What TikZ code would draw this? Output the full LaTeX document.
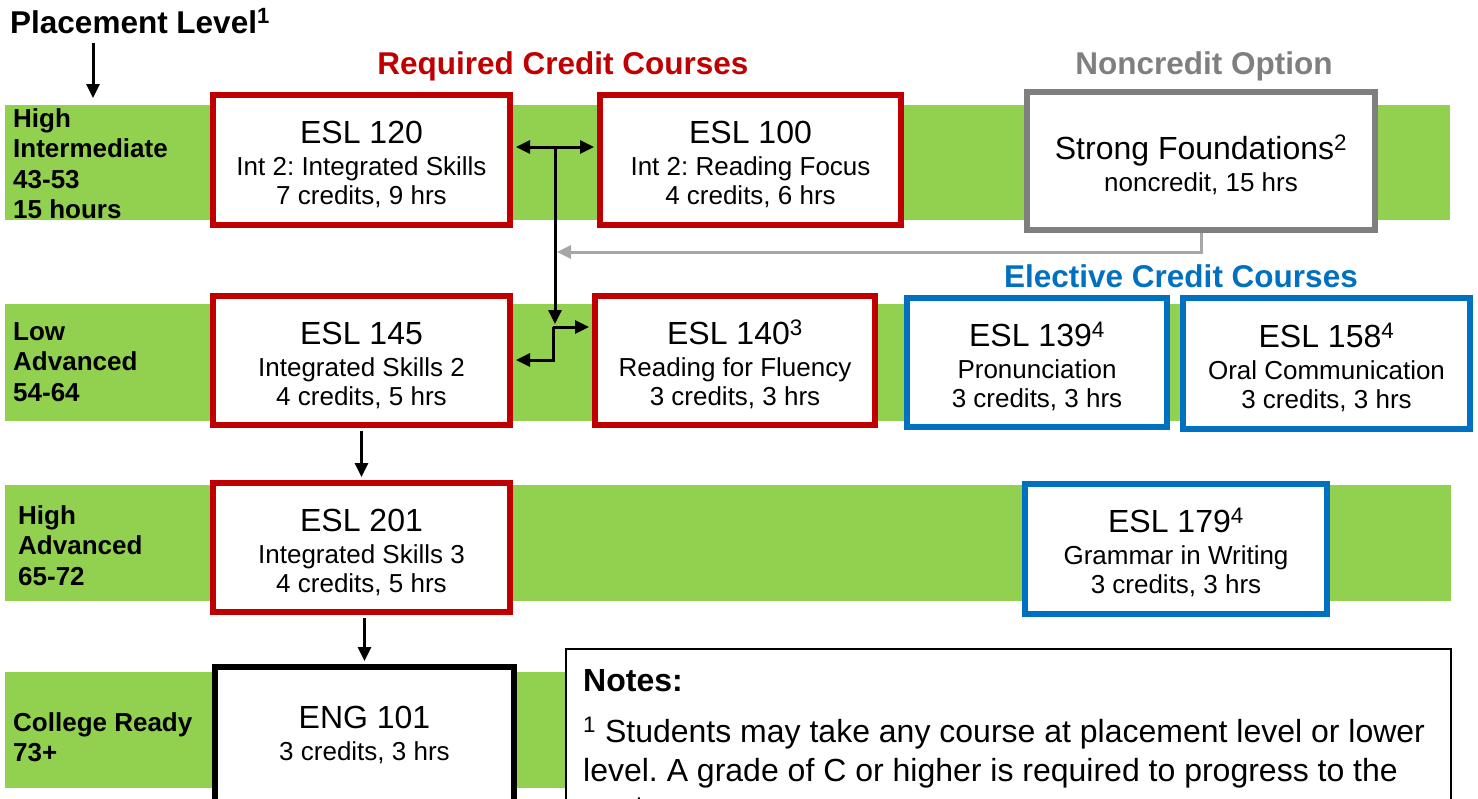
\documentclass[tikz,border=0pt]{standalone}
\usepackage{fontspec}
\setmainfont{Liberation Sans}
\usetikzlibrary{arrows.meta}
\definecolor{lvlgreen}{HTML}{92D050}
\definecolor{reqred}{HTML}{C00000}
\definecolor{eleblue}{HTML}{0070C0}
\definecolor{nongray}{HTML}{7F7F7F}
\definecolor{backgray}{HTML}{A6A6A6}
\frenchspacing
\newcommand{\crs}[1]{{\fontsize{32}{34}\selectfont\rule{0pt}{32pt}#1}\\[3pt]}
\begin{document}
\begin{tikzpicture}[x=1pt, y=-1pt,
  >={Triangle[length=14pt, width=13pt]},
  band/.style={fill=lvlgreen},
  lvl/.style={anchor=north west, inner sep=0pt, align=left, font=\bfseries\fontsize{26}{30.5}\selectfont},
  head/.style={anchor=base, inner sep=0pt, font=\bfseries\fontsize{31.5}{34}\selectfont},
  course/.style={draw, line width=6pt, fill=white, align=center, inner sep=0pt,
    font=\fontsize{26}{29}\selectfont},
  req/.style={course, draw=reqred},
  ele/.style={course, draw=eleblue},
  arr/.style={line width=3pt, ->},
  noteline/.style={anchor=base west, inner sep=0pt, font=\fontsize{32}{38}\selectfont}]
\useasboundingbox (0,0) rectangle (1478,798);
\clip (0,0) rectangle (1478,798);
% level bands
\fill[band] (5,105) rectangle (1450,220);
\fill[band] (5,304) rectangle (1450,421);
\fill[band] (5,485) rectangle (1451,601);
\fill[band] (5,672) rectangle (1450,788);
\node[lvl] (hiint) at (13,108) {High\\Intermediate\\43-53\\15 hours};
\node[lvl] (lowadv) at (13,322) {Low\\Advanced\\54-64};
\node[lvl] (hiadv) at (18,505) {High\\Advanced\\65-72};
\node[lvl] (colrdy) at (13,712) {College Ready\\73+};
\node[anchor=base west, inner sep=0pt, font=\bfseries\fontsize{31.5}{34}\selectfont] (place) at (10,33) {Placement Level\textsuperscript{1}};
% headings
\node[head, text=reqred] (reqhead) at (563,74) {Required Credit Courses};
\node[head, text=nongray] (nonhead) at (1204,74) {Noncredit Option};
\node[head, text=eleblue] (elehead) at (1181,287) {Elective Credit Courses};
% courses
\node[req, minimum width=297pt, minimum height=130pt] (esl120) at (361.5,160) {\crs{ESL 120}Int 2: Integrated Skills\\7 credits, 9 hrs};
\node[req, minimum width=301pt, minimum height=130pt] (esl100) at (750.5,160) {\crs{ESL 100}Int 2: Reading Focus\\4 credits, 6 hrs};
\node[course, draw=nongray, minimum width=348pt, minimum height=138pt] (strong) at (1201,161) {\crs{Strong Foundations\textsuperscript{2}}noncredit, 15 hrs};
\node[req, minimum width=297pt, minimum height=129pt] (esl145) at (361.5,360.5) {\crs{ESL 145}Integrated Skills 2\\4 credits, 5 hrs};
\node[req, minimum width=280pt, minimum height=129pt] (esl140) at (735,360.5) {\crs{ESL 140\textsuperscript{3}}Reading for Fluency\\3 credits, 3 hrs};
\node[ele, minimum width=260pt, minimum height=129pt] (esl139) at (1037,362.5) {\crs{ESL 139\textsuperscript{4}}Pronunciation\\3 credits, 3 hrs};
\node[ele, minimum width=287pt, minimum height=131pt] (esl158) at (1326.5,363.5) {\crs{ESL 158\textsuperscript{4}}Oral Communication\\3 credits, 3 hrs};
\node[req, minimum width=297pt, minimum height=129pt] (esl201) at (361.5,547.5) {\crs{ESL 201}Integrated Skills 3\\4 credits, 5 hrs};
\node[ele, minimum width=302pt, minimum height=130pt] (esl179) at (1176,549) {\crs{ESL 179\textsuperscript{4}}Grammar in Writing\\3 credits, 3 hrs};
\node[course, draw=black, minimum width=299pt, minimum height=138pt] (eng101) at (364.5,736) {\crs{ENG 101}3 credits, 3 hrs\rule[-16pt]{0pt}{16pt}};
% notes
\node[draw, line width=1.5pt, fill=white, anchor=north west, minimum width=885pt, minimum height=190pt, inner sep=0pt] (notes) at (565,648) {};
\node[noteline, font=\bfseries\fontsize{32}{38}\selectfont] (notehd) at (583,691) {Notes:};
\node[noteline] (note1) at (583,742) {\textsuperscript{1} Students may take any course at placement level or lower};
\node[noteline] (note2) at (583,781) {level. A grade of C or higher is required to progress to the};
\node[noteline] (note3) at (583,818) {next};
% connectors
\coordinate (p0) at (93,98);
\coordinate (j1) at (555,147);
\coordinate (j2) at (555,324);
\coordinate (j3) at (553,327);
\coordinate (j4) at (553,360);
\coordinate (j5) at (557,252);
\draw[arr, shorten <=9pt] (place.south -| p0) -- (p0);
\draw[arr, <->, shorten <=3pt, shorten >=3pt] (esl120.east |- j1) -- (esl100.west |- j1);
\draw[arr] (j1) -- (j2);
\draw[arr, shorten >=3pt] (j3) -- (esl140.west |- j3);
\draw[arr, shorten >=3pt] (j3) -- (j4) -- (esl145.east |- j4);
\draw[arr, backgray] (strong.south) -- (strong.south |- j5) -- (j5);
\draw[arr, shorten <=3pt, shorten >=3pt] (esl145.south) -- (esl201.north);
\draw[arr, shorten <=3pt, shorten >=3pt] (esl201.south -| eng101.north) -- (eng101.north);
\end{tikzpicture}
\end{document}
